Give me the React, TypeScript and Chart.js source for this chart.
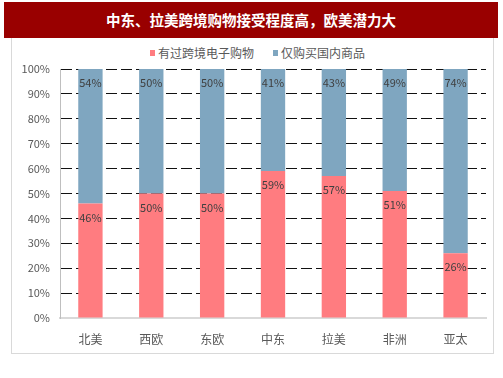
import React, { useEffect, useRef } from "react";
import { Chart, registerables } from "chart.js";

Chart.register(...registerables);

const title = "中东、拉美跨境购物接受程度高，欧美潜力大";
const categories = ["北美", "西欧", "东欧", "中东", "拉美", "非洲", "亚太"];
const seriesNames = ["有过跨境电子购物", "仅购买国内商品"];
const crossBorder = [46, 50, 50, 59, 57, 51, 26];
const domesticOnly = [54, 50, 50, 41, 43, 49, 74];
const yTicks = [0, 10, 20, 30, 40, 50, 60, 70, 80, 90, 100];

const RED = "#FF7C80";
const BLUE = "#7FA6C0";
const FONT = "'Noto Sans CJK SC', 'Noto Sans', sans-serif";

const labelPlugin = {
  id: "segLabels",
  afterDatasetsDraw(chart: any) {
    const ctx = chart.ctx;
    ctx.save();
    ctx.font = `11px ${FONT}`;
    ctx.fillStyle = "#404040";
    ctx.textAlign = "center";
    ctx.textBaseline = "middle";
    chart.data.datasets.forEach((ds: any, di: number) => {
      const meta = chart.getDatasetMeta(di);
      meta.data.forEach((bar: any, i: number) => {
        const top = Math.min(bar.y, bar.base);
        ctx.fillText(ds.data[i] + "%", bar.x, top + 14);
      });
    });
    ctx.restore();
  },
};

export default function App() {
  const ref = useRef<HTMLCanvasElement>(null);
  useEffect(() => {
    const chart = new Chart(ref.current!, {
      type: "bar",
      data: {
        labels: categories,
        datasets: [
          { label: seriesNames[0], data: crossBorder, backgroundColor: RED, barPercentage: 0.4, categoryPercentage: 1 },
          { label: seriesNames[1], data: domesticOnly, backgroundColor: BLUE, barPercentage: 0.4, categoryPercentage: 1 },
        ],
      },
      options: {
        animation: false,
        responsive: false,
        maintainAspectRatio: false,
        layout: { padding: { left: 0, right: 17, top: 69, bottom: 0 } },
        plugins: { legend: { display: false }, tooltip: { enabled: false } },
        scales: {
          x: {
            stacked: true,
            grid: { display: false, drawTicks: false },
            border: { display: true, color: "#D9D9D9", width: 2 },
            ticks: { color: "#595959", font: { size: 12, family: FONT }, padding: 14 },
            afterFit: (s: any) => { s.height = 60; },
          },
          y: {
            stacked: true,
            min: 0,
            max: 100,
            afterBuildTicks: (s: any) => { s.ticks = yTicks.map((v) => ({ value: v })); },
            grid: {
              drawTicks: false,
              color: (c: any) => (c.tick && c.tick.value === 0 ? "rgba(0,0,0,0)" : "#111"),
              lineWidth: 1,
            },
            border: { display: true, color: "#BFBFBF", width: 1, dash: [11, 4] },
            ticks: {
              color: "#595959",
              font: { size: 11, family: FONT },
              padding: 10,
              callback: (v: any) => v + "%",
            },
            afterFit: (s: any) => { s.width = 60; },
          },
        },
      },
      plugins: [labelPlugin],
    });
    return () => chart.destroy();
  }, []);

  return (
    <div style={{ position: "fixed", left: 0, top: 0, width: 503, height: 378, background: "#fff", fontFamily: FONT }}>
      <div
        style={{
          position: "absolute", left: 4, top: 2, width: 494, height: 36, background: "#990000",
          color: "#fff", fontWeight: "bold", fontSize: 14.5, lineHeight: "36px", textAlign: "center",
        }}
      >
        {title}
      </div>
      <div
        style={{
          position: "absolute", left: 11, top: 38, width: 481, height: 315,
          borderLeft: "1px solid #D9D9D9", borderRight: "1px solid #D9D9D9", borderBottom: "1px solid #D9D9D9",
        }}
      />
      <div style={{ position: "absolute", left: 0, top: 44, width: 503, height: 18, fontSize: 12, color: "#595959", lineHeight: "18px" }}>
        <span style={{ position: "absolute", left: 150, top: 6, width: 5, height: 6, background: RED }} />
        <span style={{ position: "absolute", left: 158, top: 0, whiteSpace: "nowrap" }}>{seriesNames[0]}</span>
        <span style={{ position: "absolute", left: 273, top: 6, width: 5, height: 6, background: BLUE }} />
        <span style={{ position: "absolute", left: 281, top: 0, whiteSpace: "nowrap" }}>{seriesNames[1]}</span>
      </div>
      <canvas ref={ref} width={503} height={378} style={{ position: "absolute", left: 0, top: 0, width: 503, height: 378 }} />
    </div>
  );
}
